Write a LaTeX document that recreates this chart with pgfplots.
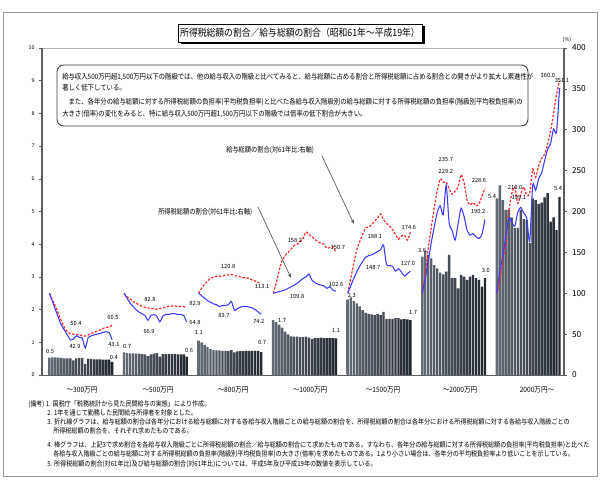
\documentclass[border=0pt]{standalone}
\usepackage{pgfplots}
\pgfplotsset{compat=1.18}
\usepackage{pgfplotstable}
\usepackage{fontspec}
\usepackage{graphicx}
\setmainfont{Noto Sans CJK JP}
\usetikzlibrary{arrows.meta}

\definecolor{barA}{RGB}{100,108,118}
\definecolor{barB}{RGB}{32,38,46}
\definecolor{lred}{RGB}{255,40,40}
\definecolor{lblue}{RGB}{60,60,255}
\definecolor{axgray}{RGB}{95,95,95}

\newcommand{\fs}[3]{{\fontsize{#1}{#1}\selectfont\scalebox{#2}[1]{#3}}}
\newcommand{\vl}{\fontsize{4.3}{4.3}\selectfont}

\pgfplotstableread{
x bar red blue
2.5 0.53 100 100
3.5 0.54 92 90
4.5 0.54 84 80
5.5 0.53 75 70
6.5 0.52 66 61
7.5 0.51 58 55
8.5 0.51 53 49
9.5 0.51 50.4 42.9
10.5 0.45 50 44
11.5 0.51 49.5 48
12.5 0.52 49 46
13.5 0.52 48 45
14.5 0.34 47.5 33
15.5 0.50 49 46
16.5 0.49 51 48
17.5 0.48 52 49
18.5 0.48 54 50
19.5 0.48 55 51
20.5 0.47 57 52
21.5 0.47 58 53
22.5 0.47 59 52
23.5 0.40 60.5 43.1
}\gA
\pgfplotstableread{
x bar red blue
27.5 0.69 100 100
28.5 0.67 96 94
29.5 0.66 93 88
30.5 0.66 90 84
31.5 0.65 88 80
32.5 0.65 86 77
33.5 0.64 84 75
34.5 0.63 82.8 73
35.5 0.58 82 66.9
36.5 0.63 81.5 73
37.5 0.65 81 74
38.5 0.67 80.5 72
39.5 0.56 81 65
40.5 0.64 82 72
41.5 0.64 83 74
42.5 0.64 84 74
43.5 0.64 84.5 75
44.5 0.64 84.5 75
45.5 0.63 84 74
46.5 0.63 84 74
47.5 0.63 83.5 73
48.5 0.56 82.9 64.8
}\gB
\pgfplotstableread{
x bar red blue
52.5 1.05 100 100
53.5 1.00 106 97
54.5 0.92 111 94
55.5 0.85 115 91
56.5 0.80 118 89
57.5 0.77 120 87
58.5 0.75 120.5 86
59.5 0.75 120.8 83.7
60.5 0.74 121 85
61.5 0.74 122 85
62.5 0.74 122.5 86
63.5 0.76 123 90
64.5 0.69 122 79
65.5 0.72 121 81
66.5 0.73 120 83
67.5 0.73 119 84
68.5 0.74 119 84
69.5 0.74 118 83
70.5 0.74 116 82
71.5 0.74 115 80
72.5 0.74 113 77
73.5 0.70 113.1 74.2
}\gC
\pgfplotstableread{
x bar red blue
77.5 1.68 100 100
78.5 1.62 112 101
79.5 1.54 128 102
80.5 1.45 140 103
81.5 1.33 146 104
82.5 1.24 150 106
83.5 1.18 154 108
84.5 1.17 158.2 109.8
85.5 1.17 160 112
86.5 1.16 163 115
87.5 1.16 167 118
88.5 1.17 175 120
89.5 1.14 172 123.5
90.5 1.10 169 116
91.5 1.13 166 113
92.5 1.13 163 111
93.5 1.14 161 110
94.5 1.13 160 109
95.5 1.13 155 106
96.5 1.13 156 108
97.5 1.13 157 104
98.5 1.12 150.7 102.6
}\gD
\pgfplotstableread{
x bar red blue
102.5 2.31 100 100
103.5 2.37 118 109
104.5 2.26 136 118
105.5 2.19 153 126
106.5 2.10 163 133
107.5 1.98 172 139
108.5 1.90 180 144
109.5 1.87 181 146
110.5 1.85 184 147
111.5 1.84 188.1 148.7
112.5 1.86 192 151
113.5 1.83 197 153
114.5 1.93 190 159
115.5 1.72 186 135
116.5 1.72 182 134
117.5 1.72 178 133
118.5 1.74 172 127
119.5 1.74 166 130
120.5 1.70 170 126
121.5 1.71 171 121
122.5 1.70 165 124
123.5 1.68 174.6 127.0
}\gE
\pgfplotstableread{
x bar red blue
127.5 3.62 100 100
128.5 3.80 125 118
129.5 3.67 155 140
130.5 3.57 180 162
131.5 3.36 205 181
132.5 3.26 225 199
133.5 3.13 240 207
134.5 3.08 235.7 196
135.5 3.16 236 232
136.5 3.67 228 186
137.5 2.96 221 177
138.5 2.96 225 165
139.5 2.65 230 185
140.5 3.06 245 204
141.5 3.01 235 194
142.5 2.91 214 177
143.5 3.01 208 171
144.5 3.06 211 173
145.5 2.96 207 169
146.5 2.91 209 167
147.5 2.70 219 172
148.5 2.96 228.6 190.2
}\gF
\pgfplotstableread{
x bar red blue
152.5 5.40 100 100
153.5 5.80 115 128
154.5 5.35 140 145
155.5 5.05 160 170
156.5 5.05 200 192
157.5 4.82 222 187
158.5 4.50 230 182
159.5 4.50 210 199.1
160.5 5.05 221 205
161.5 4.77 230 198
162.5 4.74 220 192
163.5 4.03 222 163
164.5 5.40 252 232
165.5 5.35 242 226
166.5 5.23 256 240
167.5 5.27 265 247
168.5 5.43 270 262
169.5 5.56 282 276
170.5 4.69 298 283
171.5 4.82 320 301
172.5 4.43 343 297
173.5 5.44 360 351.1
}\gG

\pgfplotsset{
  redl/.style={lred, line width=0.9pt, dash pattern=on 1.8pt off 1.2pt, smooth, tension=0.4},
  bluel/.style={lblue, line width=0.8pt, smooth, tension=0.4},
  barst/.style={draw=none, left color=barA, right color=barB},
}

\begin{document}
\begin{tikzpicture}
\begin{scope}[shift={(-31.5pt,281.25pt)}, x=0.75pt, y=-0.75pt]
  \fill[white] (0,0) rectangle (600,488);
  \draw[gray!80, line width=0.6pt] (3,12) rectangle (597,476);
  % title
  \fill[black] (180.5,26.5) rectangle (424.5,44.5);
  \filldraw[fill=white, draw=black, line width=0.6pt] (178,24) rectangle (422,42);
  \node[inner sep=0] at (300,33) {\fs{7.5}{0.88}{所得税総額の割合／給与総額の割合（昭和61年～平成19年）}};
  \node[inner sep=0] at (567,40) {\fontsize{4}{4}\selectfont (\%)};
  % text box
  \draw[rounded corners=5pt, line width=0.7pt, draw=black!75] (57,65) rectangle (528,126);
  \node[anchor=west, inner sep=0] at (62,77) {\fs{5.5}{0.868}{給与収入500万円超1,500万円以下の階級では、他の給与収入の階級と比べてみると、給与総額に占める割合と所得税総額に占める割合との開きがより拡大し累進性が}};
  \node[anchor=west, inner sep=0] at (62,88) {\fs{5.5}{0.868}{著しく低下している。}};
  \node[anchor=west, inner sep=0] at (62,102) {\fs{5.5}{0.868}{　また、各年分の給与総額に対する所得税総額の負担率(平均税負担率)と比べた各給与収入階級別の給与総額に対する所得税総額の負担率(階級別平均税負担率)の}};
  \node[anchor=west, inner sep=0] at (62,114) {\fs{5.5}{0.868}{大きさ(倍率)の変化をみると、特に給与収入500万円超1,500万円以下の階級では倍率の低下割合が大きい。}};
  % annotations
  \node[anchor=west, inner sep=0] at (226,150) {\fs{5.5}{0.85}{給与総額の割合(対61年比:右軸)}};
  \draw[gray!70!black, line width=0.5pt, -{Stealth[length=3.5pt,width=2.5pt]}] (322,156) -- (354,224);
  \node[anchor=west, inner sep=0] at (158,212) {\fs{5.5}{0.85}{所得税総額の割合(対61年比:右軸)}};
  \draw[gray!70!black, line width=0.5pt, -{Stealth[length=3.5pt,width=2.5pt]}] (258,207) -- (291,278);
  % group labels
  \node[inner sep=0] at (82,390) {\fs{5.5}{0.9}{～300万円}};
  \node[inner sep=0] at (158,390) {\fs{5.5}{0.9}{～500万円}};
  \node[inner sep=0] at (233,390) {\fs{5.5}{0.9}{～800万円}};
  \node[inner sep=0] at (310,390) {\fs{5.5}{0.9}{～1000万円}};
  \node[inner sep=0] at (383,390) {\fs{5.5}{0.9}{～1500万円}};
  \node[inner sep=0] at (460,390) {\fs{5.5}{0.9}{～2000万円}};
  \node[inner sep=0] at (537,390) {\fs{5.5}{0.9}{2000万円～}};
  % notes
  \node[anchor=west, inner sep=0] at (28,404) {\fs{5.2}{0.875}{(備考) 1. 国税庁「税務統計から見た民間給与の実態」により作成。}};
  \node[anchor=west, inner sep=0] at (47,413) {\fs{5.2}{0.875}{2. 1年を通じて勤務した民間給与所得者を対象とした。}};
  \node[anchor=west, inner sep=0] at (47,422) {\fs{5.2}{0.875}{3. 折れ線グラフは、給与総額の割合は各年分における給与総額に対する各給与収入階級ごとの給与総額の割合を、所得税総額の割合は各年分における所得税総額に対する各給与収入階級ごとの}};
  \node[anchor=west, inner sep=0] at (53,431) {\fs{5.2}{0.875}{所得税総額の割合を、それぞれ求めたものである。}};
  \node[anchor=west, inner sep=0] at (47,445) {\fs{5.2}{0.875}{4. 棒グラフは、上記3で求め割合を各給与収入階級ごとに所得税総額の割合／給与総額の割合にて求めたものである。すなわち、各年分の給与総額に対する所得税総額の負担率(平均税負担率)と比べた}};
  \node[anchor=west, inner sep=0] at (53,454) {\fs{5.2}{0.875}{各給与収入階級ごとの給与総額に対する所得税総額の負担率(階級別平均税負担率)の大きさ(倍率)を求めたものである。1より小さい場合は、各年分の平均税負担率より低いことを示している。}};
  \node[anchor=west, inner sep=0] at (47,464) {\fs{5.2}{0.875}{5. 所得税総額の割合(対61年比)及び給与総額の割合(対61年比)については、平成5年及び平成19年の数値を表示している。}};
\end{scope}

\begin{axis}[
  at={(0pt,0pt)}, anchor=south west, scale only axis,
  width=391.5pt, height=245.25pt,
  xmin=0, xmax=175, ymin=0, ymax=10,
  xtick=\empty, ytick={0,1,...,10},
  ytick pos=left, tick align=outside, major tick length=2pt,
  ytick style={axgray, line width=0.4pt},
  yticklabel style={font=\fontsize{4}{4}\selectfont},
  /pgf/number format/assume math mode=true,
  axis line style={draw=gray!60, line width=0.4pt},
  ybar, bar width=0.8, bar shift=0pt,
  clip=false,
]
\addplot[barst] table[x=x,y=bar]{\gA};
\addplot[barst] table[x=x,y=bar]{\gB};
\addplot[barst] table[x=x,y=bar]{\gC};
\addplot[barst] table[x=x,y=bar]{\gD};
\addplot[barst] table[x=x,y=bar]{\gE};
\addplot[barst] table[x=x,y=bar]{\gF};
\addplot[barst] table[x=x,y=bar]{\gG};
\draw[axgray, line width=1.4pt] (rel axis cs:0,0) -- (rel axis cs:0,1);
\draw[axgray, line width=0.6pt] (rel axis cs:0,0) -- (rel axis cs:1,0);
\node[font=\vl] at (axis cs:2.7,0.73) {0.5};
\node[font=\vl] at (axis cs:24.1,0.55) {0.4};
\node[font=\vl] at (axis cs:28.5,0.86) {0.7};
\node[font=\vl] at (axis cs:49.3,0.76) {0.6};
\node[font=\vl] at (axis cs:52.6,1.31) {1.1};
\node[font=\vl] at (axis cs:73.8,0.98) {0.7};
\node[font=\vl] at (axis cs:80.5,1.68) {1.7};
\node[font=\vl] at (axis cs:98.6,1.35) {1.1};
\node[font=\vl] at (axis cs:103.9,2.42) {2.3};
\node[font=\vl] at (axis cs:124.4,1.9) {1.7};
\node[font=\vl] at (axis cs:127.4,3.82) {3.6};
\node[font=\vl] at (axis cs:148.8,3.21) {3.0};
\node[font=\vl] at (axis cs:150.9,5.47) {5.4};
\node[font=\vl] at (axis cs:173,5.69) {5.4};
\end{axis}

\begin{axis}[
  at={(0pt,0pt)}, anchor=south west, scale only axis,
  width=391.5pt, height=245.25pt,
  xmin=0, xmax=175, ymin=0, ymax=400,
  axis x line=none, axis y line*=right,
  ytick={0,50,...,400},
  tick align=outside, major tick length=2.5pt,
  ytick style={axgray, line width=0.4pt},
  yticklabel style={font=\fontsize{6.2}{6.2}\selectfont},
  /pgf/number format/assume math mode=true,
  y axis line style={line width=1.4pt, draw=axgray},
  clip=false,
]
\addplot[redl] table[x=x,y=red]{\gA};
\addplot[bluel] table[x=x,y=blue]{\gA};
\addplot[redl] table[x=x,y=red]{\gB};
\addplot[bluel] table[x=x,y=blue]{\gB};
\addplot[redl] table[x=x,y=red]{\gC};
\addplot[bluel] table[x=x,y=blue]{\gC};
\addplot[redl] table[x=x,y=red]{\gD};
\addplot[bluel] table[x=x,y=blue]{\gD};
\addplot[redl] table[x=x,y=red]{\gE};
\addplot[bluel] table[x=x,y=blue]{\gE};
\addplot[redl] table[x=x,y=red]{\gF};
\addplot[bluel] table[x=x,y=blue]{\gF};
\addplot[redl] table[x=x,y=red]{\gG};
\addplot[bluel] table[x=x,y=blue]{\gG};
\node[font=\vl] at (axis cs:11.4,63.6) {50.4};
\node[font=\vl] at (axis cs:11.1,34.3) {42.9};
\node[font=\vl] at (axis cs:23.8,70.9) {60.5};
\node[font=\vl] at (axis cs:24.1,37.9) {43.1};
\node[font=\vl] at (axis cs:36.2,93) {82.8};
\node[font=\vl] at (axis cs:35.9,53.8) {66.9};
\node[font=\vl] at (axis cs:51.3,86.9) {82.9};
\node[font=\vl] at (axis cs:51.3,64.8) {64.8};
\node[font=\vl] at (axis cs:62.4,133.3) {120.8};
\node[font=\vl] at (axis cs:73.8,108.9) {113.1};
\node[font=\vl] at (axis cs:61.0,73.4) {83.7};
\node[font=\vl] at (axis cs:72.7,66.1) {74.2};
\node[font=\vl] at (axis cs:84.8,165.1) {158.2};
\node[font=\vl] at (axis cs:99.2,156.6) {150.7};
\node[font=\vl] at (axis cs:85.5,96.6) {109.8};
\node[font=\vl] at (axis cs:98.6,111.3) {102.6};
\node[font=\vl] at (axis cs:111.6,170) {188.1};
\node[font=\vl] at (axis cs:123.0,181) {174.6};
\node[font=\vl] at (axis cs:111.0,132.1) {148.7};
\node[font=\vl] at (axis cs:122.7,137) {127.0};
\node[font=\vl] at (axis cs:135.4,264.2) {235.7};
\node[font=\vl] at (axis cs:135.4,249.5) {229.2};
\node[font=\vl] at (axis cs:146.5,238.5) {228.6};
\node[font=\vl] at (axis cs:146.2,200.6) {190.2};
\node[font=\vl] at (axis cs:158.6,230) {210.0};
\node[font=\vl] at (axis cs:159.9,217.7) {199.1};
\node[font=\vl] at (axis cs:169.6,367) {360.0};
\node[font=\vl] at (axis cs:174.3,360.9) {351.1};
\end{axis}
\end{tikzpicture}
\end{document}
